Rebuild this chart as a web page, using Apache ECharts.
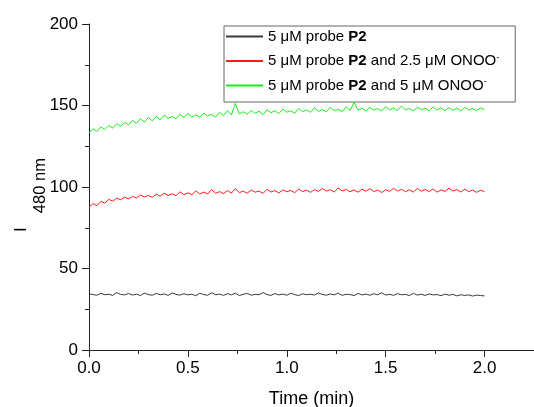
<!DOCTYPE html>
<html>
<head>
<meta charset="utf-8">
<script src="https://cdn.jsdelivr.net/npm/echarts@6/dist/echarts.min.js"></script>
<style>html,body{margin:0;padding:0;background:#fff}#c{width:534px;height:407px}</style>
</head>
<body>
<div id="c"></div>
<script>
// sampling step of the recorded time course (min)
const timeStep = 0.02;
const seriesNames = ['probe', 'probe25', 'probe5'];
const legendLabels = [
  '5 \u03bcM probe {b|P2}',
  '5 \u03bcM probe {b|P2} and 2.5 \u03bcM ONOO{s|-}',
  '5 \u03bcM probe {b|P2} and 5 \u03bcM ONOO{s|-}'
];
const xTicks = [0, 0.5, 1.0, 1.5, 2.0];
const yTicks = [0, 50, 100, 150, 200];

const probeOnly = [
  34.5,34.0,33.6,34.8,33.9,34.2,33.5,35.2,34.1,33.8,
  34.6,33.7,34.3,33.4,34.9,34.0,33.6,34.7,33.9,34.4,
  33.5,35.0,34.1,33.7,34.5,33.8,34.2,33.3,34.8,34.0,
  33.6,35.1,33.9,34.3,33.5,34.6,33.8,34.9,33.4,34.2,
  34.7,33.6,34.1,33.9,35.2,34.0,33.5,34.6,33.8,34.3,
  33.6,34.8,34.0,33.4,34.5,33.9,34.2,33.7,35.0,34.1,
  33.6,34.4,33.8,34.9,33.5,34.2,34.0,33.4,34.7,33.8,
  34.3,33.6,34.5,33.9,35.1,33.7,34.2,33.5,34.6,33.9,
  34.1,33.4,34.8,33.7,34.2,33.5,34.4,33.8,34.0,33.3,
  34.3,33.6,34.1,33.2,33.9,33.5,33.8,33.1,33.7,33.4,33.2
];
const probePlus25 = [
  87.5,89.8,88.6,91.2,90.1,92.4,91.3,93.1,92.2,93.8,
  92.7,94.2,93.3,95.1,93.9,94.8,93.7,95.6,94.4,96.2,
  94.9,95.8,94.6,97.1,95.3,96.4,95.2,97.6,95.8,96.9,
  95.7,98.4,96.1,97.2,95.9,97.8,96.3,98.9,96.6,97.4,
  96.2,98.1,96.8,97.5,96.1,98.6,96.9,97.8,96.4,98.2,
  97.1,97.9,96.5,98.8,97.2,98.1,96.7,98.4,97.3,99.1,
  97.5,98.3,96.9,99.4,97.6,98.5,97.1,98.2,96.8,98.7,
  97.4,98.9,97.2,98.1,96.6,98.4,97.3,99.2,97.5,98.6,
  97.1,98.3,96.9,99.1,97.4,98.5,97.2,98.8,96.8,98.2,
  97.3,99.3,97.5,98.4,96.9,98.7,97.2,98.1,96.7,98.0,97.2
];
const probePlus5 = [
  133.2,135.8,134.1,136.9,135.2,137.8,136.1,138.9,137.3,139.6,
  138.2,140.8,139.1,141.9,139.8,142.7,140.6,143.4,141.2,144.1,
  142.3,143.2,141.8,144.6,142.5,145.1,143.0,144.3,142.7,145.4,
  143.6,144.5,142.9,145.8,143.8,146.9,144.2,151.3,144.8,146.2,
  144.6,147.1,145.2,146.5,144.3,147.4,145.6,146.8,145.1,147.9,
  145.9,146.7,145.3,148.2,146.1,147.3,145.8,148.6,146.4,147.5,
  146.2,148.9,146.8,147.6,146.3,149.2,146.9,151.8,147.1,148.4,
  146.5,148.8,147.2,148.1,146.6,149.3,147.4,148.5,146.9,149.6,
  147.3,148.2,146.7,148.9,147.5,148.3,146.8,149.1,147.2,148.6,
  146.9,148.7,147.1,148.4,146.6,148.9,147.3,148.2,146.8,148.5,147.4
];

function pair(vals) {
  return vals.map((v, i) => [+(i * timeStep).toFixed(2), v]);
}

const font = 'Liberation Sans, Arial, sans-serif';
const chart = echarts.init(document.getElementById('c'), null, {renderer: 'canvas'});
const colors = ['#3a3a3a', '#ff1a1a', '#1aee1a'];
const datasets = [probeOnly, probePlus25, probePlus5];

chart.setOption({
  animation: false,
  backgroundColor: '#fff',
  grid: {left: 89, right: 0, top: 24, bottom: 57, containLabel: false, outerBoundsMode: 'none'},
  legend: {
    orient: 'vertical',
    left: 224, top: 26,
    padding: [3, 16, 9, 1],
    itemWidth: 37, itemHeight: 14, itemGap: 9,
    borderColor: '#666', borderWidth: 1,
    itemStyle: {opacity: 0},
    data: seriesNames,
    formatter: function (name) { return legendLabels[seriesNames.indexOf(name)]; },
    textStyle: {
      fontFamily: font, fontSize: 15, color: '#000',
      rich: {
        b: {fontFamily: font, fontSize: 15, fontWeight: 'bold', color: '#000'},
        s: {fontFamily: font, fontSize: 9, color: '#000', verticalAlign: 'top', lineHeight: 16}
      }
    }
  },
  xAxis: {
    type: 'value', min: 0, max: 2.25, interval: 0.5,
    name: 'Time (min)', nameLocation: 'middle', nameGap: 40, nameMoveOverlap: false,
    nameTextStyle: {fontFamily: font, fontSize: 18, color: '#000'},
    axisLine: {show: true, onZero: false, lineStyle: {color: '#222', width: 1}},
    axisTick: {show: true, inside: false, length: 7, lineStyle: {color: '#222'}},
    minorTick: {show: true, splitNumber: 2, length: 4, lineStyle: {color: '#222'}},
    splitLine: {show: false},
    axisLabel: {
      fontFamily: font, fontSize: 17, color: '#000', margin: 10,
      formatter: function (v) { return xTicks.some(t => Math.abs(t - v) < 1e-6) ? v.toFixed(1) : ''; }
    }
  },
  yAxis: {
    type: 'value', min: 0, max: 200, interval: 50,
    name: '{i|I}{s|480 nm}', nameLocation: 'middle', nameGap: 40, nameRotate: 90, nameMoveOverlap: false,
    nameTextStyle: {
      fontFamily: font, color: '#000', padding: [0, 16, 0, 0],
      rich: {
        i: {fontFamily: font, fontSize: 17, color: '#000', verticalAlign: 'top', lineHeight: 36, padding: [0, 14, 0, 0]},
        s: {fontFamily: font, fontSize: 16.5, color: '#000', verticalAlign: 'bottom', lineHeight: 36}
      }
    },
    axisLine: {show: true, lineStyle: {color: '#222', width: 1}},
    axisTick: {show: true, inside: false, length: 7, lineStyle: {color: '#222'}},
    minorTick: {show: true, splitNumber: 2, length: 4, lineStyle: {color: '#222'}},
    splitLine: {show: false},
    axisLabel: {
      fontFamily: font, fontSize: 17, color: '#000', margin: 11,
      formatter: function (v) { return yTicks.indexOf(v) >= 0 ? String(v) : ''; }
    }
  },
  series: seriesNames.map((n, k) => ({
    name: n, type: 'line', symbol: 'none', data: pair(datasets[k]),
    lineStyle: {color: colors[k], width: 1}, itemStyle: {color: colors[k]},
    emphasis: {disabled: true}
  }))
});
</script>
</body>
</html>
